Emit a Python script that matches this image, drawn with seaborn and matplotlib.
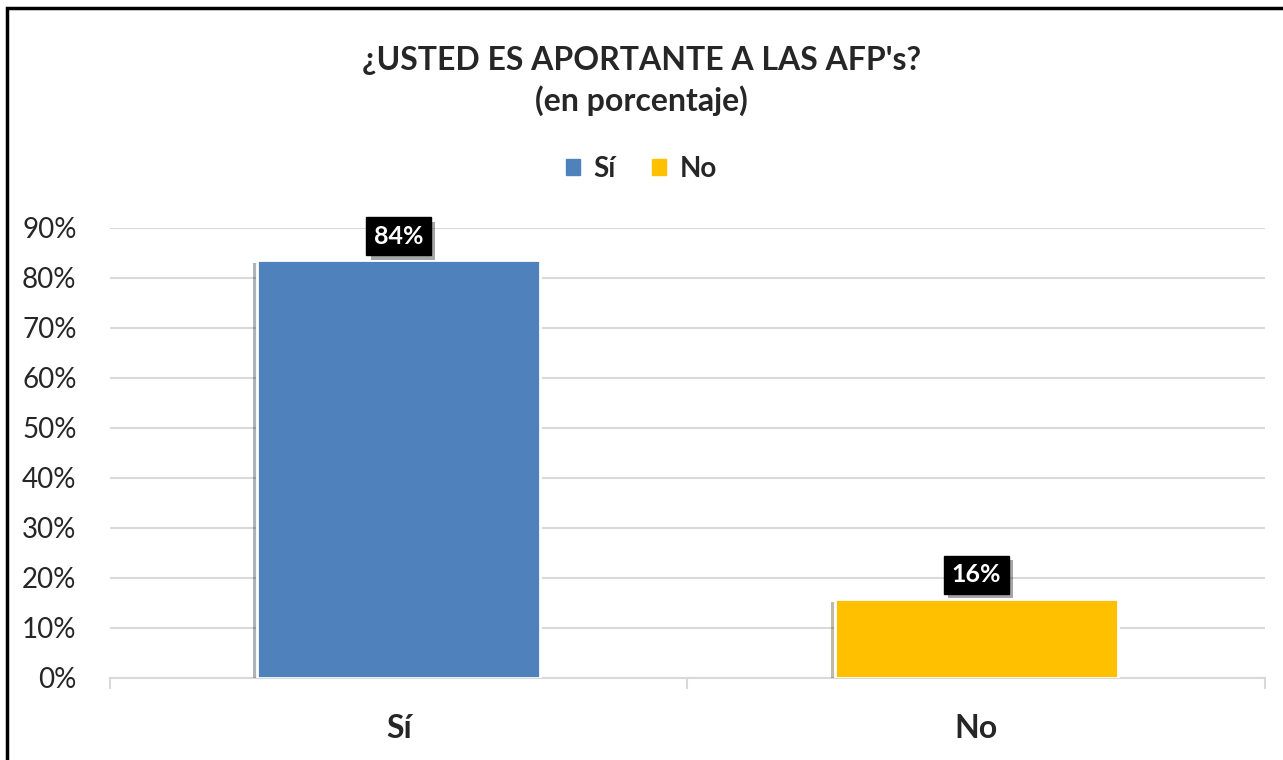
import numpy as np
import pandas as pd
import seaborn as sns
import matplotlib.pyplot as plt
import matplotlib.patheffects as pe
from matplotlib.patches import Patch, Rectangle
from matplotlib.ticker import PercentFormatter

categories = ['Sí', 'No']
values = [0.835, 0.158]
labels = ['84%', '16%']
colors = ['#4F81BD', '#FFC000']

df = pd.DataFrame({'Respuesta': categories, 'Porcentaje': values})

sns.set_style('white')
plt.rcParams['font.family'] = ['Lato', 'DejaVu Sans']

fig = plt.figure(figsize=(12.83, 7.6), dpi=100)
ax = fig.add_axes([0.0857, 0.108, 0.9003, 0.592])

sns.barplot(data=df, x='Respuesta', y='Porcentaje', hue='Respuesta',
            palette=colors, saturation=1, width=0.49, edgecolor='white',
            linewidth=2, legend=False, ax=ax, zorder=3)

# sombra de las barras
for bar in ax.patches:
    bar.set_path_effects([pe.SimplePatchShadow(offset=(-3, -2), alpha=0.35),
                          pe.Normal()])

ax.set_ylim(0, 0.9)
ax.set_xlim(-0.5, 1.5)
ax.yaxis.set_major_locator(plt.MultipleLocator(0.1))
ax.yaxis.set_major_formatter(PercentFormatter(1.0, decimals=0))
ax.grid(axis='y', color='#D9D9D9', linewidth=1.5, zorder=0)
ax.set_axisbelow(True)

for side in ['left', 'right', 'top']:
    ax.spines[side].set_visible(False)
ax.spines['bottom'].set_color('#D9D9D9')
ax.spines['bottom'].set_linewidth(1.5)

ax.set_xlabel('')
ax.set_ylabel('')
ax.tick_params(axis='y', length=0, pad=24, labelsize=20)
ax.tick_params(axis='x', which='major', length=0, pad=26, labelsize=23)
for t in ax.get_xticklabels():
    t.set_fontweight('bold')
ax.set_xticks([-0.5, 0.5, 1.5], minor=True)
ax.tick_params(axis='x', which='minor', bottom=True, length=8, width=1.5,
               color='#D9D9D9')

# etiquetas de datos
for i, (v, lab) in enumerate(zip(values, labels)):
    ax.annotate(lab, xy=(i, v), xytext=(0, 9), textcoords='offset points',
                ha='center', va='bottom', color='white', fontsize=18,
                fontweight='bold', zorder=5,
                bbox=dict(boxstyle='square,pad=0.3', fc='black', ec='black',
                          path_effects=[pe.SimplePatchShadow(offset=(3, -3), alpha=0.35),
                                        pe.Normal()]))

fig.text(0.5, 0.894, "¿USTED ES APORTANTE A LAS AFP's?\n(en porcentaje)",
         ha='center', va='center', fontsize=23, fontweight='bold',
         linespacing=1.4)

handles = [Patch(color=c, label=cat) for c, cat in zip(colors, categories)]
fig.legend(handles=handles, loc='center', bbox_to_anchor=(0.5, 0.778), ncol=2,
           frameon=False, prop={'size': 20, 'weight': 'bold'},
           handlelength=0.5, handleheight=0.5, handletextpad=0.5,
           columnspacing=1.3)

# borde del gráfico
fig.patches.append(Rectangle((7 / 1283, -0.5), 1.2, 1.5 - 8 / 760,
                             transform=fig.transFigure, fill=False,
                             ec='black', lw=2.5, clip_on=False))

fig.savefig('out.png', dpi=100)
